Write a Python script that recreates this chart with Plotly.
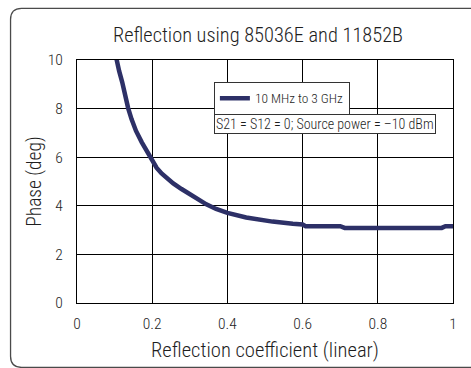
import plotly.graph_objects as go

# Measured phase uncertainty versus reflection coefficient
refl_coef = [0.100, 0.105, 0.112, 0.120, 0.1275, 0.136, 0.145, 0.157, 0.172, 0.186,
             0.200, 0.212, 0.225, 0.240, 0.256, 0.278, 0.300, 0.322, 0.344,
             0.370, 0.400, 0.450, 0.486, 0.520, 0.574, 0.600, 0.608, 0.700, 0.712,
             0.970, 0.980, 1.000]
phase_deg = [10.4, 10.0, 9.55, 9.1, 8.56, 8.02, 7.57, 7.08, 6.62, 6.22,
             5.83, 5.56, 5.33, 5.11, 4.92, 4.69, 4.47, 4.26, 4.06,
             3.87, 3.71, 3.52, 3.43, 3.35, 3.26, 3.23, 3.16, 3.16, 3.09,
             3.09, 3.16, 3.16]

series_name = "10 MHz to 3 GHz"
condition_note = "S21 = S12 = 0; Source power = \u201310 dBm"
x_ticks = [0, 0.2, 0.4, 0.6, 0.8, 1]
x_tick_text = ["0", "0.2", "0.4", "0.6", "0.8", "1"]
y_ticks = [0, 2, 4, 6, 8, 10]

FONT = "Roboto Condensed, Liberation Sans Narrow, Arial Narrow, sans-serif"
INK = "#1e1e1e"
W, H = 471, 368
L, R, T, B = 77, 17.7, 60, 65.3
pw, ph = W - L - R, H - T - B


def px(x):
    return (x - L) / pw


def py(y):
    return (H - B - y) / ph


fig = go.Figure()
fig.add_trace(go.Scatter(
    x=refl_coef, y=phase_deg, mode="lines", name=series_name,
    line=dict(color="#2d3067", width=4.5), showlegend=True,
))

# rounded outer frame (continues past the right/bottom edges)
x0, y0, x1, y1, r = 10.5, 8.5, 485, 367, 11
frame = (f"M {px(x1)},{py(y0)} L {px(x0 + r)},{py(y0)} "
         f"Q {px(x0)},{py(y0)} {px(x0)},{py(y0 + r)} "
         f"L {px(x0)},{py(y1 - r)} "
         f"Q {px(x0)},{py(y1)} {px(x0 + r)},{py(y1)} "
         f"L {px(x1)},{py(y1)}")
fig.add_shape(type="path", path=frame, xref="paper", yref="paper",
              line=dict(color="#4a4a4a", width=1.3), layer="below")

fig.add_annotation(
    text=condition_note, xref="paper", yref="paper",
    x=px(214.5), y=py(123.5), xanchor="left", yanchor="middle",
    showarrow=False, font=dict(family=FONT, size=14, color=INK, weight=300),
    bgcolor="white", bordercolor="#333", borderwidth=1, borderpad=1,
)

fig.update_layout(
    width=W, height=H,
    margin=dict(l=L, r=R, t=T, b=B),
    paper_bgcolor="white", plot_bgcolor="white",
    font=dict(family=FONT, color=INK, weight=300),
    title=dict(text="Reflection using 85036E and 11852B", x=258 / W, xanchor="center",
               y=1 - 35 / H, yanchor="middle",
               font=dict(family=FONT, size=20.4, color=INK, weight=300)),
    legend=dict(x=px(214), y=py(82), xanchor="left", yanchor="top",
                bgcolor="white", bordercolor="#333", borderwidth=1,
                font=dict(family=FONT, size=13.4, color=INK, weight=300),
                tracegroupgap=0, itemwidth=30),
    xaxis=dict(range=[0, 1], tickvals=x_ticks, ticktext=x_tick_text,
               showgrid=True, gridcolor="black", gridwidth=1,
               showline=True, linecolor="black", linewidth=1.2, mirror=True,
               ticks="", zeroline=False, ticklabelstandoff=6,
               tickfont=dict(family=FONT, size=15.5, color=INK, weight=300),
               title=dict(text="Reflection coefficient (linear)", standoff=10,
                          font=dict(family=FONT, size=20.6, color=INK, weight=300))),
    yaxis=dict(range=[0, 10], tickvals=y_ticks,
               showgrid=True, gridcolor="black", gridwidth=1,
               showline=True, linecolor="black", linewidth=1.2, mirror=True,
               ticks="", zeroline=False, ticklabelstandoff=10,
               tickfont=dict(family=FONT, size=15.5, color=INK, weight=300),
               title=dict(text="Phase (deg)", standoff=0,
                          font=dict(family=FONT, size=19.5, color=INK, weight=300))),
)

fig.write_html("out.html")
